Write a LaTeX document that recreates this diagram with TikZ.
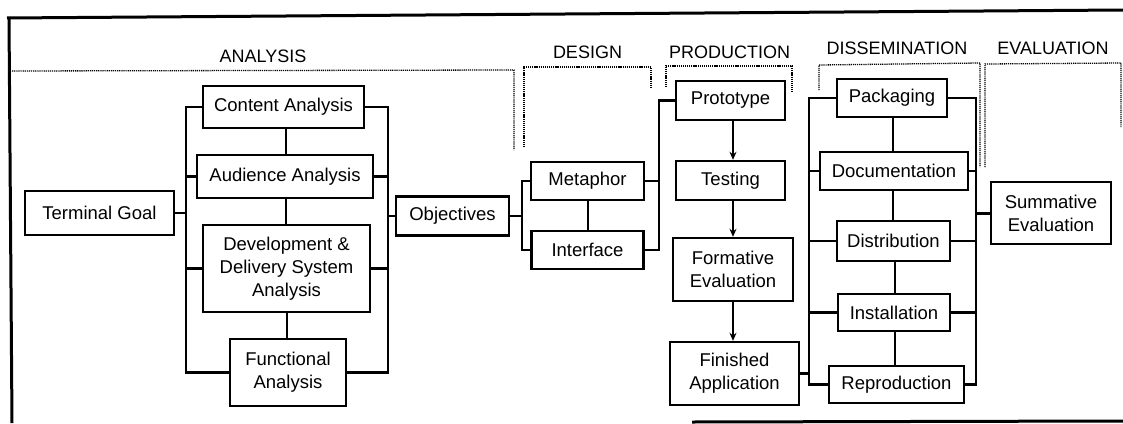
\documentclass[tikz,border=0pt]{standalone}
\usepackage{fontspec}
\setmainfont{Liberation Sans}
\usetikzlibrary{arrows.meta}
\begin{document}
\begin{tikzpicture}[x=1pt,y=-1pt,
  box/.style={draw, line width=2.4pt, inner sep=0pt, align=center,
    font=\fontsize{18.5}{23}\selectfont},
  link/.style={line width=2.1pt},
  phase/.style={line width=1.3pt, dash pattern=on 1.2pt off 0.9pt},
  head/.style={font=\fontsize{18}{22}\selectfont},
  flow/.style={line width=2.3pt, -{Stealth[length=8pt,width=7pt]}},
  frame/.style={line width=3pt}]
\useasboundingbox (0,0) rectangle (1123,423);

% outer frame
\draw[frame] (7,18) -- (1123,10);
\draw[frame] (9,18) -- (12,423);
\draw[frame] (692,422) -- (1123,421);

% phase headings
\node[head] (hA) at (263,56) {ANALYSIS};
\node[head] (hD) at (587.5,52) {DESIGN};
\node[head] (hP) at (729.5,52) {PRODUCTION};
\node[head] (hS) at (897,48) {DISSEMINATION};
\node[head] (hE) at (1053,48) {EVALUATION};

% dotted phase brackets
\draw[phase] (10,71) -- (514,70) -- (514,150);
\draw[phase] (524,147) -- (524,67) -- (651,67) -- (651,87);
\draw[phase] (666,87) -- (666,66) -- (792,66) -- (792,93);
\draw[phase] (819,90) -- (819,65) -- (980,63) -- (980,167);
\draw[phase] (985,167) -- (985,64) -- (1121,63) -- (1121,127);

% analysis
\node[box, minimum width=149pt, minimum height=44pt] (tg) at (99.5,213) {Terminal Goal};
\node[box, minimum width=161pt, minimum height=42pt] (ca) at (283.5,107) {Content Analysis};
\node[box, minimum width=176pt, minimum height=43pt] (aa) at (285,176.5) {Audience Analysis};
\node[box, minimum width=167pt, minimum height=87pt] (dev) at (286.5,268.5) {Development \&\\Delivery System\\Analysis};
\node[box, minimum width=116pt, minimum height=67pt] (fa) at (288,372.5) {Functional\\Analysis};
\node[box, minimum width=113pt, minimum height=39pt] (obj) at (452.5,216) {Objectives};

% design
\node[box, minimum width=113pt, minimum height=38pt] (met) at (587.5,181) {Metaphor};
\node[box, minimum width=112pt, minimum height=38pt] (int) at (587.5,250) {Interface};

% production
\node[box, minimum width=109pt, minimum height=39pt] (proto) at (730.5,100.5) {Prototype};
\node[box, minimum width=109pt, minimum height=39pt] (test) at (730.5,180.5) {Testing};
\node[box, minimum width=120pt, minimum height=63pt] (form) at (733,269.5) {Formative\\Evaluation};
\node[box, minimum width=129pt, minimum height=63pt] (fin) at (734.5,373.5) {Finished\\Application};

% dissemination
\node[box, minimum width=110pt, minimum height=38pt] (pack) at (892,98) {Packaging};
\node[box, minimum width=148pt, minimum height=38pt] (doc) at (894,171) {Documentation};
\node[box, minimum width=113pt, minimum height=40pt] (dist) at (893.5,241) {Distribution};
\node[box, minimum width=112pt, minimum height=37pt] (inst) at (894,312.5) {Installation};
\node[box, minimum width=135pt, minimum height=37pt] (repro) at (896.5,384.5) {Reproduction};

% evaluation
\node[box, minimum width=120pt, minimum height=62pt] (sum) at (1051,213) {Summative\\Evaluation};

% bracket columns
\coordinate (al) at (186,0);
\coordinate (ar) at (388,0);
\coordinate (dl) at (522,0);
\coordinate (pl) at (659,0);
\coordinate (sl) at (809,0);
\coordinate (sr) at (976,0);

% analysis brackets
\draw[link] (ca.west) -- (ca.west -| al) -- (fa.west -| al) -- (fa.west);
\draw[link] (aa.west) -- (aa.west -| al);
\draw[link] (dev.west) -- (dev.west -| al);
\draw[link] (tg.east) -- (tg.east -| al);
\draw[link] (ca.east) -- (ca.east -| ar) -- (fa.east -| ar) -- (fa.east);
\draw[link] (aa.east) -- (aa.east -| ar);
\draw[link] (dev.east) -- (dev.east -| ar);
\draw[link] (obj.west) -- (obj.west -| ar);

% design brackets
\draw[link] (met.west) -- (met.west -| dl) -- (int.west -| dl) -- (int.west);
\draw[link] (obj.east) -- (obj.east -| dl);
\draw[link] (proto.west) -- (proto.west -| pl) -- (int.east -| pl) -- (int.east);
\draw[link] (met.east) -- (met.east -| pl);

% dissemination brackets
\draw[link] (pack.west) -- (pack.west -| sl) -- (repro.west -| sl) -- (repro.west);
\draw[link] (doc.west) -- (doc.west -| sl);
\draw[link] (dist.west) -- (dist.west -| sl);
\draw[link] (inst.west) -- (inst.west -| sl);
\draw[link] (fin.east) -- (fin.east -| sl);
\draw[link] (pack.east) -- (pack.east -| sr) -- (repro.east -| sr) -- (repro.east);
\draw[link] (doc.east) -- (doc.east -| sr);
\draw[link] (dist.east) -- (dist.east -| sr);
\draw[link] (inst.east) -- (inst.east -| sr);
\draw[link, line width=3pt] (sum.west) -- (sum.west -| sr);

% stacked links
\coordinate (ax) at (286,0);
\draw[link] (ca.south -| ax) -- (aa.north -| ax);
\draw[link] (aa.south -| ax) -- (dev.north -| ax);
\coordinate (ax2) at (287,0);
\draw[link] (dev.south -| ax2) -- (fa.north -| ax2);
\coordinate (mx) at (588,0);
\draw[link] (met.south -| mx) -- (int.north -| mx);
\coordinate (sx) at (893,0);
\draw[link] (pack.south -| sx) -- (doc.north -| sx);
\draw[link] (doc.south -| sx) -- (dist.north -| sx);
\coordinate (sx2) at (895,0);
\draw[link] (dist.south -| sx2) -- (inst.north -| sx2);
\draw[link] (inst.south -| sx2) -- (repro.north -| sx2);

% production flow
\coordinate (px) at (733,0);
\draw[flow] (proto.south -| px) -- (test.north -| px);
\draw[flow] (test.south -| px) -- (form.north -| px);
\draw[flow] (form.south -| px) -- (fin.north -| px);
\end{tikzpicture}
\end{document}
